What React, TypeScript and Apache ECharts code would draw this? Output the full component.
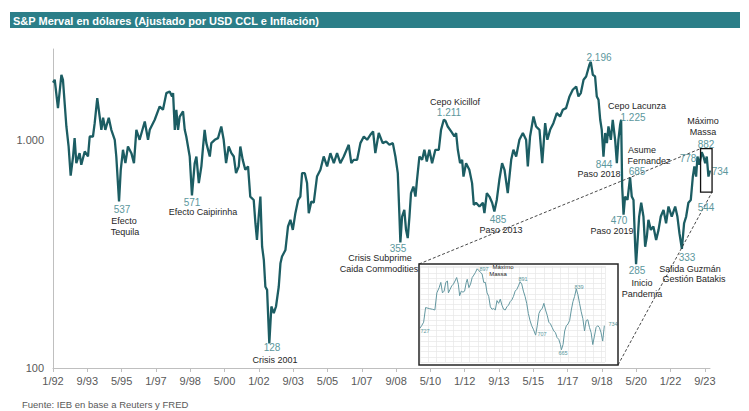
import React, { useEffect, useRef } from "react";
import * as echarts from "echarts";

// months since Jan-1992 (fractional) and index value (USD, CCL & inflation adjusted)
const months = [
  0, 1.0, 2.9, 4.9, 5.8, 7.8, 9.1, 10.3, 11.7, 12.6, 13.6, 15.5, 16.5, 18.5, 20.4, 21.4, 23.3, 24.3, 25.8, 27.2,
  28.2, 29.2, 30.5, 32.5, 34, 36, 36.9, 38.5, 39.5, 40.8, 42.2, 43.7, 45.7, 47.2, 48.6, 50.5, 53.5, 55.4, 56.4, 59.3,
  62.2, 64.1, 66.1, 68, 69.4, 70, 71, 71.9, 72.9, 73.9, 75.8, 76.8, 77.7, 79.7, 81, 82.6, 83.6, 85, 86.5, 87.5,
  88.4, 89.4, 91.4, 92.3, 94.3, 96.2, 98.1, 99.5, 100.9, 102.4, 104, 105.4, 106.7, 108.3, 109.2, 110.6, 112.1, 113.7, 115, 117,
  118, 118.9, 119.9, 120.9, 121.9, 122.9, 123.8, 124.8, 126.1, 127.3, 128.7, 130, 131.6, 132.6, 133.5, 135.5, 137, 138.4, 139.8, 141.3,
  142.9, 144.2, 145.2, 146.8, 148.1, 149.1, 150.6, 152, 153.9, 155.9, 157.8, 159.8, 161.7, 163.7, 165.6, 167.5, 169.5, 172.4, 173.9, 175.3,
  177.3, 179.2, 181.2, 183.1, 185, 186.6, 187.9, 189.9, 192.2, 194.2, 196.1, 198.1, 199.6, 201, 201.9, 202.5, 203.5, 204.8, 205.8, 206.8,
  207.8, 208.7, 210.1, 211.3, 212.2, 213.6, 215.2, 216.5, 217.9, 219.4, 221, 222.9, 224.9, 226.2, 227.8, 228.8, 230.1, 232.1, 234, 235,
  236, 237.3, 238.5, 239.3, 240.8, 242.7, 244.3, 245.3, 246.6, 248.6, 250.6, 251.5, 252.9, 254.4, 256, 257.3, 258.7, 260.2, 261.8, 263.2,
  265.1, 267.1, 268.4, 270, 271.9, 273.9, 275.8, 276.8, 278.1, 280.1, 281.6, 283.6, 285.2, 286.9, 288.2, 289.8, 291.7, 293.7, 295.6, 297.2,
  299.1, 301.1, 303, 305, 306.3, 307.7, 309.3, 310.8, 312.7, 313.5, 314.7, 316, 317, 318, 319, 319.9, 320.9, 321.9, 322.9, 323.8,
  325.2, 326.3, 327.7, 328.7, 329.6, 330.6, 331.2, 331.8, 332.6, 333.5, 334.9, 336.4, 337.4, 338.4, 339.4, 339.9, 340.7, 341.7, 342.9, 344.2,
  345.2, 346.2, 347.1, 348.5, 350, 351.6, 353, 354.3, 355.9, 357.4, 358.8, 360.7, 362.7, 364, 365.2, 366.6, 367.9, 369.1, 370.4, 371.8,
  373, 373.9, 374.9, 375.7, 376.8, 378.2, 379.2, 380.2, 381.1, 382.1, 383,
];
const merval = [
  1780, 1833, 1377, 1928, 1833, 1144, 935, 697, 845, 1017, 790, 874, 777, 889, 845, 1034, 1034, 1183, 1523, 1265,
  1106, 1249, 1106, 1249, 1106, 1000, 845, 537, 739, 904, 790, 935, 874, 790, 1106, 1000, 1203, 1000, 1106, 1224,
  1400, 1354, 1602, 1628, 1549, 1602, 1106, 1354, 1106, 1265, 1331, 1106, 1034, 845, 571, 790, 845, 646, 765, 935,
  1106, 967, 845, 967, 1000, 1017, 1144, 1000, 790, 935, 874, 845, 714, 765, 935, 817, 739, 765, 564, 545,
  431, 364, 461, 564, 340, 298, 227, 220, 128, 186, 174, 186, 227, 288, 308, 329, 417, 446, 403, 477,
  545, 564, 714, 714, 646, 477, 537, 530, 690, 739, 845, 765, 874, 790, 874, 790, 845, 951, 790, 817,
  817, 967, 1034, 1000, 1052, 1088, 874, 1071, 967, 983, 951, 967, 845, 714, 477, 355, 461, 493, 403, 371,
  461, 584, 624, 564, 668, 845, 817, 904, 803, 904, 790, 904, 904, 1106, 1224, 1211, 1144, 1088, 1034, 1070,
  904, 790, 817, 690, 790, 739, 646, 519, 530, 510, 530, 477, 584, 564, 530, 485, 545, 668, 790, 739,
  584, 817, 904, 845, 1000, 1071, 1000, 765, 1034, 1265, 1144, 1106, 790, 1183, 1000, 1106, 1183, 1309, 1265, 1354,
  1377, 1549, 1657, 1713, 1549, 1602, 1833, 1895, 2133, 2196, 1928, 1895, 1549, 1498, 1224, 1106, 844, 1071, 967, 1144,
  1000, 1224, 1000, 790, 1000, 1163, 1225, 624, 470, 564, 545, 685, 564, 545, 340, 285, 352, 461, 530, 461,
  340, 377, 446, 403, 417, 364, 403, 461, 493, 431, 510, 461, 510, 461, 389, 333, 431, 461, 530, 545,
  690, 765, 690, 845, 778, 882, 845, 790, 845, 690, 734,
];

// inset: zoom on the last weeks (trading-day index and value)
const insetDay = [
  0, 1, 2.2, 3.4, 5.6, 7.6, 9, 10.2, 11.6, 12.6, 13.6, 14.6, 15.6, 16.6, 17.2, 18.2, 19.2, 20.2, 21.2, 22.2,
  23.2, 24, 25, 26, 27, 28, 28.6, 29.6, 30.6, 31.6, 32.6, 33.6, 34.6, 35.6, 36.6, 37.6, 38.6, 39.6, 40.6, 41.6,
  42.6, 43.6, 44.6, 45.6, 46.6, 47.6, 48.6, 49.6, 50.6, 51.6, 52.6, 53.6, 54.6, 55.6, 56.6, 57.6, 58.6, 59.6, 60.6, 61.6,
  62.6, 63.6, 64.6, 65.6, 66.6, 67.6, 68.6, 70, 71, 72, 73, 74, 75, 76, 77, 78, 79, 80, 81, 82,
  83, 84, 85, 85.6, 86.6, 87.6, 88.6, 89.6, 90.6, 91.6, 92.6, 93.6, 94.6, 95.6, 96.6, 97.6, 98.6, 99.6, 100.6, 101.6,
  102.6, 103.6, 104.6, 105.6, 106.6, 107.6, 108.6, 109.6, 110.6, 111.6,
];
const insetValues = [
  727, 734, 744, 786, 783, 781, 779, 828, 843, 858, 828, 833, 858, 862, 828, 838, 848, 853, 862, 872,
  853, 820, 833, 830, 833, 858, 867, 843, 853, 872, 879, 887, 897, 892, 887, 882, 858, 858, 828, 818,
  788, 781, 783, 779, 806, 798, 810, 793, 781, 779, 788, 793, 803, 808, 818, 833, 838, 848, 860, 853,
  833, 818, 798, 769, 749, 734, 724, 707, 734, 769, 779, 783, 798, 779, 764, 744, 739, 729, 719, 714,
  700, 695, 680, 665, 680, 719, 734, 739, 749, 779, 803, 818, 839, 823, 798, 774, 754, 719, 749, 751,
  729, 714, 680, 704, 729, 734, 729, 714, 690, 734,
];

const TEAL = "#1c5d63";
const LABEL_TEAL = "#5c979d";
const DARK = "#262626";
const FONT = "'Liberation Sans', Arial, sans-serif";

type Note = { t: string; x: number; y: number; k: "v" | "n" };
const notes: Note[] = [
  { t: "537", x: 122, y: 209, k: "v" },
  { t: "Efecto", x: 124, y: 221, k: "n" },
  { t: "Tequila", x: 125, y: 232, k: "n" },
  { t: "571", x: 192, y: 202, k: "v" },
  { t: "Efecto Caipirinha", x: 203, y: 212, k: "n" },
  { t: "128", x: 272, y: 347, k: "v" },
  { t: "Crisis 2001", x: 275, y: 360, k: "n" },
  { t: "355", x: 398, y: 248, k: "v" },
  { t: "Crisis Subprime", x: 380, y: 258, k: "n" },
  { t: "Caida Commodities", x: 379, y: 269, k: "n" },
  { t: "Cepo Kicillof", x: 455, y: 102, k: "n" },
  { t: "1.211", x: 449, y: 112, k: "v" },
  { t: "485", x: 498, y: 219, k: "v" },
  { t: "Paso 2013", x: 501, y: 230, k: "n" },
  { t: "2.196", x: 599, y: 57, k: "v" },
  { t: "Cepo Lacunza", x: 637, y: 106, k: "n" },
  { t: "1.225", x: 633, y: 117, k: "v" },
  { t: "844", x: 604, y: 164, k: "v" },
  { t: "Paso 2018", x: 599, y: 174, k: "n" },
  { t: "Asume", x: 642, y: 150, k: "n" },
  { t: "Fernandez", x: 649, y: 161, k: "n" },
  { t: "685", x: 637, y: 171, k: "v" },
  { t: "470", x: 619, y: 220, k: "v" },
  { t: "Paso 2019", x: 612, y: 231, k: "n" },
  { t: "285", x: 637, y: 270, k: "v" },
  { t: "Inicio", x: 642, y: 283, k: "n" },
  { t: "Pandemia", x: 642, y: 294, k: "n" },
  { t: "333", x: 687, y: 257, k: "v" },
  { t: "Salida Guzmán", x: 690, y: 269, k: "n" },
  { t: "Gestión Batakis", x: 694, y: 279, k: "n" },
  { t: "Máximo", x: 703, y: 121, k: "n" },
  { t: "Massa", x: 703, y: 132, k: "n" },
  { t: "882", x: 706, y: 144, k: "v" },
  { t: "778", x: 688, y: 158, k: "v" },
  { t: "734", x: 720, y: 171, k: "v" },
  { t: "544", x: 706, y: 207, k: "v" },
];
const insetNotes: Note[] = [
  { t: "727", x: 425, y: 331, k: "v" },
  { t: "897", x: 484, y: 269, k: "v" },
  { t: "Máximo", x: 503, y: 267, k: "n" },
  { t: "Massa", x: 498, y: 274, k: "n" },
  { t: "891", x: 523, y: 279, k: "v" },
  { t: "707", x: 542, y: 334, k: "v" },
  { t: "665", x: 563, y: 353, k: "v" },
  { t: "839", x: 579, y: 287, k: "v" },
  { t: "734", x: 613, y: 324, k: "v" },
];

const xTicks = Array.from({ length: 20 }, (_, i) => i * 20);
const fmtMonth = (m: number) => {
  const r = Math.round(m);
  const mo = (r % 12) + 1;
  const yr = (92 + Math.floor(r / 12)) % 100;
  return `${mo}/${String(yr).padStart(2, "0")}`;
};

export default function App() {
  const ref = useRef<HTMLDivElement>(null);
  useEffect(() => {
    if (!ref.current) return;
    const chart = echarts.init(ref.current, undefined, { renderer: "svg" });
    const option: any = {
      animation: false,
      backgroundColor: "#ffffff",
      grid: [
        { left: 53, right: 39, top: 49, bottom: 43, containLabel: false },
        { left: 420, right: 144, top: 266, bottom: 49, containLabel: false },
      ],
      xAxis: [
        {
          type: "value",
          gridIndex: 0,
          min: 0,
          max: 383,
          interval: 20,
          axisLine: { show: true, lineStyle: { color: "#bfbfbf", width: 1 } },
          axisTick: { show: true, length: 4, customValues: xTicks, lineStyle: { color: "#bfbfbf" } },
          axisLabel: {
            customValues: xTicks,
            formatter: (v: number) => (Math.round(v) % 20 === 0 && v <= 380 ? fmtMonth(v) : ""),
            color: "#595959",
            fontSize: 11,
            fontFamily: FONT,
            margin: 7,
          },
          splitLine: { show: false },
        },
        {
          type: "value",
          gridIndex: 1,
          min: 0,
          max: 112,
          interval: 5,
          axisLine: { show: false },
          axisTick: { show: false },
          axisLabel: { show: false },
          splitLine: { show: true, lineStyle: { color: "#e6e6e6", width: 0.7 } },
        },
      ],
      yAxis: [
        {
          type: "log",
          gridIndex: 0,
          logBase: 10,
          min: 100,
          max: 2500,
          axisLine: { show: true, lineStyle: { color: "#bfbfbf", width: 1 } },
          axisTick: { show: false },
          axisLabel: {
            formatter: (v: number) => {
              const r = Math.round(v);
              return r === 1000 ? "1.000" : r === 100 ? "100" : "";
            },
            color: "#595959",
            fontSize: 11,
            fontFamily: FONT,
            margin: 9,
          },
          splitLine: { show: false },
        },
        {
          type: "value",
          gridIndex: 1,
          min: 630,
          max: 905,
          interval: 15,
          axisLine: { show: false },
          axisTick: { show: false },
          axisLabel: { show: false },
          splitLine: { show: true, lineStyle: { color: "#e6e6e6", width: 0.7 } },
        },
      ],
      series: [
        {
          type: "line",
          xAxisIndex: 0,
          yAxisIndex: 0,
          data: months.map((m, i) => [m, merval[i]]),
          showSymbol: false,
          symbol: "none",
          lineStyle: { color: TEAL, width: 2.3 },
          z: 3,
        },
        {
          type: "line",
          xAxisIndex: 1,
          yAxisIndex: 1,
          data: insetDay.map((d, i) => [d, insetValues[i]]),
          showSymbol: false,
          symbol: "none",
          lineStyle: { color: "#6397a0", width: 1 },
          z: 3,
        },
      ],
    };
    chart.setOption(option);

    const tl = chart.convertToPixel({ gridIndex: 0 }, [377.5, 915]) as number[];
    const br = chart.convertToPixel({ gridIndex: 0 }, [384.2, 590]) as number[];
    const inset = { x: 419, y: 264, w: 199, h: 101 };

    const txt = (n: Note, size: number, valSize: number) => ({
      type: "text",
      x: n.x,
      y: n.y,
      z: 50,
      style: {
        text: n.t,
        fill: n.k === "v" ? LABEL_TEAL : DARK,
        fontSize: n.k === "v" ? valSize : size,
        fontFamily: FONT,
        align: "center",
        verticalAlign: "middle",
      },
    });

    const graphics: any[] = [
      {
        type: "rect",
        shape: { x: 10, y: 12, width: 730, height: 16 },
        style: { fill: "#2b7e88" },
        z: 10,
      },
      {
        type: "text",
        x: 13,
        y: 20.5,
        z: 11,
        style: {
          text: "S&P Merval en dólares (Ajustado por USD CCL e Inflación)",
          fill: "#ffffff",
          fontSize: 11,
          fontWeight: "bold",
          fontFamily: FONT,
          align: "left",
          verticalAlign: "middle",
        },
      },
      {
        type: "text",
        x: 22,
        y: 404,
        z: 11,
        style: {
          text: "Fuente: IEB en base a Reuters y FRED",
          fill: "#595959",
          fontSize: 9.5,
          fontFamily: FONT,
          align: "left",
          verticalAlign: "middle",
        },
      },
      {
        type: "rect",
        shape: { x: inset.x, y: inset.y, width: inset.w, height: inset.h },
        style: { fill: "#ffffff", stroke: "none" },
        z: -5,
      },
      {
        type: "rect",
        shape: { x: inset.x, y: inset.y, width: inset.w, height: inset.h },
        style: { fill: "none", stroke: "#262626", lineWidth: 1.5 },
        z: 60,
      },
      {
        type: "rect",
        shape: { x: tl[0], y: tl[1], width: br[0] - tl[0], height: br[1] - tl[1] },
        style: { fill: "none", stroke: "#111111", lineWidth: 1.3 },
        z: 60,
      },
      {
        type: "line",
        shape: { x1: inset.x, y1: inset.y, x2: tl[0], y2: tl[1] },
        style: { stroke: "#333333", lineWidth: 0.9, lineDash: [3, 2] },
        z: 40,
      },
      {
        type: "line",
        shape: { x1: inset.x + inset.w, y1: inset.y + inset.h, x2: br[0], y2: br[1] },
        style: { stroke: "#333333", lineWidth: 0.9, lineDash: [3, 2] },
        z: 40,
      },
      ...notes.map((n) => txt(n, 9, 10)),
      ...insetNotes.map((n) => txt(n, 6, 5.5)),
    ];
    chart.setOption({ graphic: graphics });

    return () => chart.dispose();
  }, []);
  return (
    <div
      ref={ref}
      style={{ position: "fixed", left: 0, top: 0, width: 749, height: 411, background: "#fff" }}
    />
  );
}
